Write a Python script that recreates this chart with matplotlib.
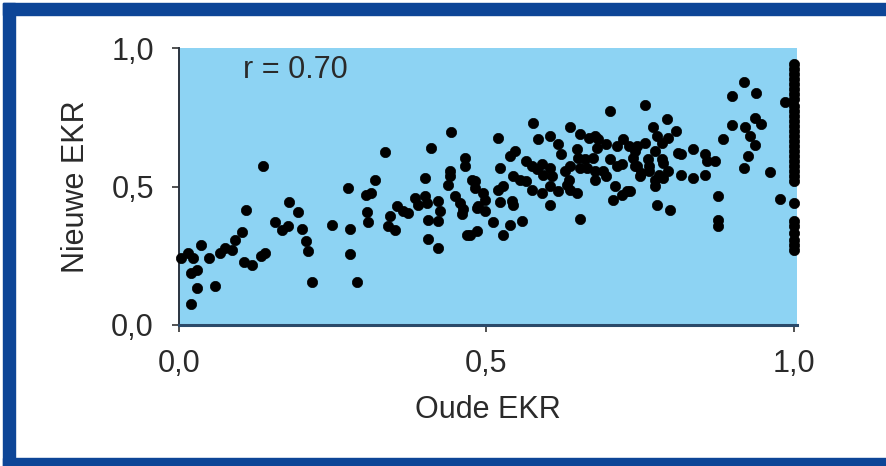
import matplotlib
matplotlib.use("Agg")
import matplotlib.pyplot as plt
from matplotlib.patches import Rectangle

plt.rcParams['font.family'] = ['Liberation Sans', 'DejaVu Sans']

# Oude EKR (x) vs Nieuwe EKR (y)
oude_ekr = [
    0.137, 0.109, 0.179, 0.194, 0.156, 0.167, 0.178, 0.200, 0.207, 0.210,
    0.216, 0.140, 0.133, 0.118, 0.105, 0.102, 0.091, 0.086, 0.075, 0.067,
    0.048, 0.035, 0.023, 0.015, 0.004, 0.029, 0.019, 0.030, 0.059, 0.019,
    0.443, 0.335, 0.410, 0.465, 0.465, 0.440, 0.440, 0.438, 0.476, 0.481,
    0.400, 0.318, 0.275, 0.313, 0.304, 0.305, 0.308, 0.248, 0.278, 0.278,
    0.289, 0.354, 0.365, 0.373, 0.343, 0.340, 0.351, 0.384, 0.389, 0.400,
    0.403, 0.422, 0.424, 0.405, 0.422, 0.405, 0.422, 0.449, 0.457, 0.462,
    0.460, 0.468, 0.484, 0.484,
    0.701, 0.576, 0.636, 0.519, 0.584, 0.603, 0.617, 0.622, 0.652, 0.666,
    0.676, 0.682, 0.695, 0.712, 0.722, 0.731, 0.741, 0.647, 0.679, 0.649,
    0.660, 0.674, 0.701, 0.712, 0.720, 0.744, 0.546, 0.538, 0.522, 0.565,
    0.574, 0.590, 0.603, 0.582, 0.592, 0.606, 0.628, 0.636, 0.652, 0.663,
    0.676, 0.690, 0.695, 0.676, 0.709, 0.728, 0.720, 0.706, 0.543, 0.554,
    0.565, 0.574, 0.590, 0.603, 0.617, 0.631, 0.636, 0.647, 0.634, 0.603,
    0.652, 0.481, 0.495, 0.498, 0.519, 0.527, 0.522, 0.541, 0.543, 0.487,
    0.498, 0.511, 0.538, 0.557, 0.527, 0.473,
    0.918, 0.899, 0.938, 0.937, 0.947, 0.920, 0.899, 0.929, 0.937, 0.885,
    0.925, 0.918, 0.961, 0.977, 0.877, 0.877, 0.877, 0.985, 0.758, 0.793,
    0.771, 0.809, 0.777, 0.796, 0.758, 0.785, 0.744, 0.774, 0.812, 0.817,
    0.836, 0.855, 0.858, 0.872, 0.739, 0.763, 0.785, 0.787, 0.741, 0.764,
    0.752, 0.764, 0.796, 0.780, 0.750, 0.774, 0.774, 0.787, 0.817, 0.836,
    0.855, 0.777, 0.798, 0.733,
]
nieuwe_ekr = [
    0.574, 0.414, 0.443, 0.407, 0.371, 0.342, 0.356, 0.347, 0.304, 0.266,
    0.155, 0.260, 0.250, 0.217, 0.226, 0.334, 0.308, 0.272, 0.278, 0.260,
    0.242, 0.290, 0.242, 0.260, 0.242, 0.199, 0.187, 0.133, 0.139, 0.075,
    0.697, 0.624, 0.640, 0.604, 0.574, 0.556, 0.537, 0.507, 0.525, 0.495,
    0.531, 0.525, 0.495, 0.477, 0.471, 0.407, 0.371, 0.362, 0.347, 0.257,
    0.155, 0.429, 0.411, 0.405, 0.392, 0.356, 0.344, 0.459, 0.435, 0.465,
    0.441, 0.447, 0.411, 0.380, 0.374, 0.310, 0.278, 0.465, 0.441, 0.417,
    0.399, 0.326, 0.338, 0.423,
    0.773, 0.728, 0.713, 0.676, 0.670, 0.682, 0.652, 0.616, 0.688, 0.676,
    0.682, 0.670, 0.652, 0.646, 0.670, 0.646, 0.628, 0.634, 0.640, 0.604,
    0.598, 0.604, 0.598, 0.574, 0.580, 0.574, 0.628, 0.610, 0.568, 0.592,
    0.574, 0.580, 0.568, 0.562, 0.543, 0.537, 0.556, 0.574, 0.568, 0.568,
    0.556, 0.556, 0.537, 0.525, 0.501, 0.483, 0.471, 0.450, 0.537, 0.525,
    0.519, 0.489, 0.477, 0.501, 0.483, 0.507, 0.489, 0.477, 0.525, 0.435,
    0.383, 0.519, 0.477, 0.453, 0.489, 0.501, 0.443, 0.447, 0.435, 0.429,
    0.411, 0.371, 0.362, 0.374, 0.326, 0.326,
    0.876, 0.827, 0.837, 0.749, 0.725, 0.713, 0.721, 0.682, 0.649, 0.670,
    0.610, 0.568, 0.552, 0.455, 0.467, 0.380, 0.356, 0.805, 0.793, 0.743,
    0.713, 0.700, 0.682, 0.676, 0.658, 0.658, 0.646, 0.628, 0.622, 0.616,
    0.634, 0.616, 0.592, 0.592, 0.604, 0.598, 0.598, 0.586, 0.574, 0.574,
    0.550, 0.556, 0.556, 0.543, 0.537, 0.525, 0.501, 0.531, 0.543, 0.531,
    0.543, 0.435, 0.414, 0.483,
]

# kolom van punten met Oude EKR = 1,0
kolom_y = [
    0.942, 0.924, 0.906, 0.888, 0.870, 0.851, 0.833, 0.815, 0.791, 0.773,
    0.755, 0.737, 0.718, 0.700, 0.682, 0.664, 0.646, 0.628, 0.610, 0.592,
    0.574, 0.556, 0.537, 0.519, 0.441, 0.374, 0.356, 0.332, 0.308, 0.290,
    0.272,
]
kolom_x = [1.0] * len(kolom_y)

ticks = [0.0, 0.5, 1.0]
tick_labels = ['0,0', '0,5', '1,0']


def main():
    fig = plt.figure(figsize=(8.86, 4.66), dpi=100)
    fig.patch.set_facecolor('white')

    # blauwe kader rond de figuur
    frame = '#0d4597'
    W, H = 886.0, 466.0
    fig.patches.append(Rectangle((3 / W, 1 - 15 / H), 1.0, 12 / H, transform=fig.transFigure,
                                 color=frame, zorder=0))
    fig.patches.append(Rectangle((3 / W, 0), 12 / W, 1 - 3 / H, transform=fig.transFigure,
                                 color=frame, zorder=0))
    fig.patches.append(Rectangle((3 / W, 0), 1.0, 8 / H, transform=fig.transFigure,
                                 color=frame, zorder=0))

    ax = fig.add_axes([179 / W, 1 - 325 / H, 618 / W, 277 / H])
    ax.set_facecolor('#8dd3f3')

    ax.scatter(oude_ekr, nieuwe_ekr, s=55, c='black', edgecolors='black', linewidths=0.5,
               zorder=3, clip_on=False)
    ax.scatter(kolom_x, kolom_y, s=55, c='black', edgecolors='black', linewidths=0.5,
               zorder=3, clip_on=False)

    ax.set_xlim(0, 1.005)
    ax.set_ylim(0, 1.0)
    ax.set_xticks(ticks)
    ax.set_xticklabels(tick_labels)
    ax.set_yticks(ticks)
    ax.set_yticklabels(tick_labels)

    for side in ['top', 'right']:
        ax.spines[side].set_visible(False)
    ax.spines['left'].set_color('#2b3440')
    ax.spines['bottom'].set_color('#2b4a6a')
    ax.spines['left'].set_linewidth(1.4)
    ax.spines['bottom'].set_linewidth(2.2)

    ax.tick_params(axis='both', direction='out', length=5, width=1.2, color='#333333',
                   labelsize=22, labelcolor='#2a2a2a')
    ax.tick_params(axis='x', pad=12)
    ax.tick_params(axis='y', pad=13)

    ax.text(0.104, 0.92, 'r = 0.70', fontsize=22, color='#2a2a2a', ha='left', va='center')

    ax.set_xlabel('Oude EKR', fontsize=22, color='#2a2a2a')
    ax.set_ylabel('Nieuwe EKR', fontsize=22, color='#2a2a2a')
    ax.xaxis.set_label_coords(0.5, -0.307)
    ax.xaxis.label.set_va('center')
    ax.yaxis.set_label_coords(-0.167, 0.5)
    ax.yaxis.label.set_va('center')

    fig.savefig('out.png', dpi=100)
    plt.close(fig)


if __name__ == "__main__":
    main()
